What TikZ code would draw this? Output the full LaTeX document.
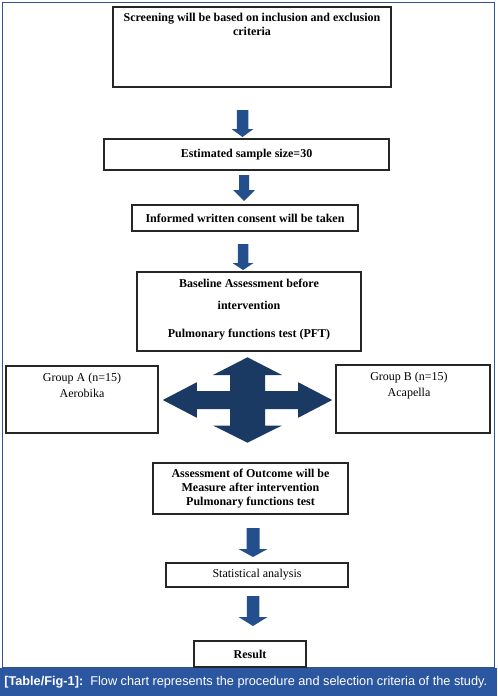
\documentclass[tikz,border=0pt]{standalone}
\usepackage{fontspec}
\setmainfont{Liberation Serif}
\newfontfamily\capfont{Liberation Sans}
\usetikzlibrary{shadows}

\definecolor{framecol}{RGB}{46,84,150}
\definecolor{bandcol}{RGB}{43,86,160}
\definecolor{arrowcol}{RGB}{35,79,140}
\definecolor{crosscol}{RGB}{27,58,99}

\tikzset{
  box/.style={draw=black!85, line width=0.9pt, fill=white, inner sep=0pt,
    drop shadow={shadow xshift=0.9pt, shadow yshift=-0.9pt, fill=black!55, opacity=0.6}},
  boldtext/.style={font=\fontsize{9}{10.5}\selectfont\bfseries, align=center, inner sep=0pt},
  plaintext/.style={font=\fontsize{9}{12}\selectfont, align=center, inner sep=0pt}
}

% centre x, top, head base, tip, shaft width, head width
\newcommand{\blockdown}[6]{%
  \fill[arrowcol] (#1-#5/2,#2) -- (#1+#5/2,#2) -- (#1+#5/2,#3) -- (#1+#6/2,#3)
    -- (#1,#4) -- (#1-#6/2,#3) -- (#1-#5/2,#3) -- cycle;}

\begin{document}
\begin{tikzpicture}[x=0.75pt, y=-0.75pt]
    \useasboundingbox (0,0) rectangle (497,696);

    \fill[bandcol] (0,668) rectangle (497,696);
    \draw[framecol, line width=1.2pt] (2.5,2.5) rectangle (494.5,668);

    \node[anchor=west, text=white, inner sep=0pt,
          font=\capfont\fontsize{9.55}{11}\selectfont] (caption) at (4,682)
        {\textbf{[Table/Fig-1]:}\ \ Flow chart represents the procedure and selection criteria of the study.};

    \node[box, minimum width=208.5pt, minimum height=60pt] (screen) at (252,47) {};
    \node[boldtext, anchor=north] (screentxt) at (252,13)
        {Screening will be based on inclusion and exclusion\\criteria};

    \node[box, boldtext, minimum width=213.75pt, minimum height=23.25pt] (sample) at (246.5,154.5)
        {Estimated sample size=30};

    \node[box, boldtext, minimum width=169.5pt, minimum height=19.5pt] (consent) at (245,218)
        {Informed written consent will be taken};

    \node[box, minimum width=168pt, minimum height=59.25pt] (baseline) at (249,311.5) {};
    \node[boldtext, anchor=north] (baselinetxt) at (249,279)
        {Baseline Assessment before\\[6pt]intervention\\[10.5pt]Pulmonary functions test (PFT)};

    \node[box, minimum width=114pt, minimum height=50.25pt] (groupA) at (82,399.5) {};
    \node[plaintext, anchor=north] (groupAtxt) at (82,373) {Group A (n=15)\\Aerobika};

    \node[box, minimum width=115.5pt, minimum height=51pt] (groupB) at (413,399) {};
    \node[plaintext, anchor=north] (groupBtxt) at (409,372) {Group B (n=15)\\Acapella};

    \node[box, boldtext, minimum width=146.25pt, minimum height=38.25pt] (outcome) at (250.5,488.5)
        {Assessment of Outcome will be\\Measure after intervention\\Pulmonary functions test};

    \node[box, plaintext, minimum width=136.5pt, minimum height=18pt] (stats) at (257,575)
        {Statistical analysis};

    \node[box, boldtext, minimum width=84pt, minimum height=19.5pt] (result) at (250,654)
        {Result};

    \blockdown{242.5}{110}{129}{137}{11.5}{22}
    \blockdown{244}{175}{190}{201}{10}{22}
    \blockdown{243}{244}{263}{270}{10.5}{21}
    \blockdown{253}{528}{549}{557}{13}{29}
    \blockdown{253}{596}{617}{626}{12.5}{29}

    \coordinate (hub) at (247.5,400);
    \fill[crosscol, shift={(hub)}] (0,-42.7) -- (34.5,-25) -- (17.5,-25) -- (17.5,-9)
        -- (50.6,-9) -- (50.6,-17.8) -- (84.7,0) -- (50.6,17.8) -- (50.6,9) -- (17.5,9)
        -- (17.5,25.5) -- (34.5,25.5) -- (0,42.7) -- (-34.5,25.5) -- (-17.5,25.5) -- (-17.5,9)
        -- (-50.6,9) -- (-50.6,17.8) -- (-84.7,0) -- (-50.6,-17.8) -- (-50.6,-9) -- (-17.5,-9)
        -- (-17.5,-25) -- (-34.5,-25) -- cycle;

\end{tikzpicture}
\end{document}
